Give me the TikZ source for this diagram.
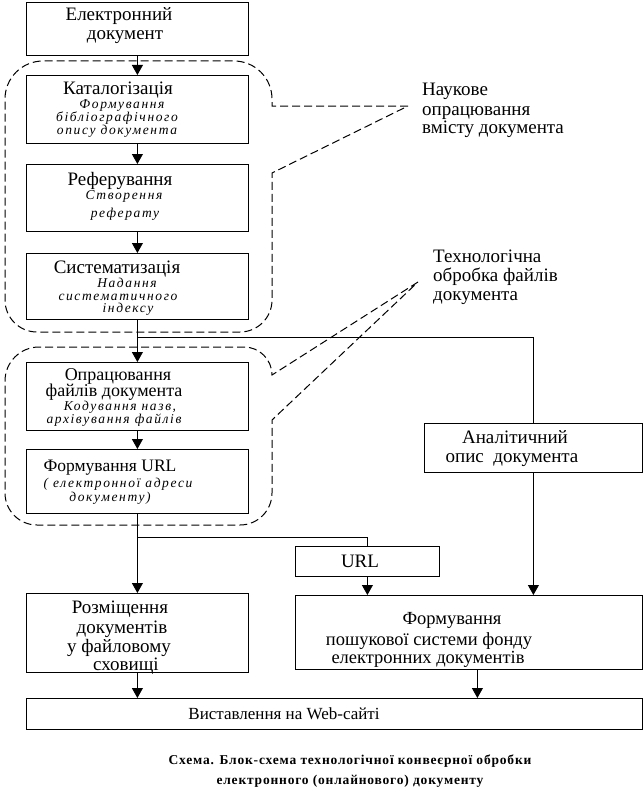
\documentclass[tikz,border=0pt]{standalone}
\usepackage{fontspec}
\setmainfont{Liberation Serif}
\newfontfamily\subfam{Liberation Serif}[LetterSpace=12]
\newfontfamily\capfam{Liberation Serif}[LetterSpace=6]
\usetikzlibrary{arrows.meta}
\newcommand\szA{\fontsize{19}{21}\selectfont}
\newcommand\szB{\fontsize{18}{20}\selectfont}
\newcommand\szC{\fontsize{17.5}{19}\selectfont}
\newcommand\szD{\fontsize{18.5}{20}\selectfont}
\newcommand\szE{\fontsize{17}{19}\selectfont}
\newcommand\subsz{\subfam\itshape\fontsize{13.5}{14}\selectfont}
\newcommand\capsz{\capfam\bfseries\fontsize{13.5}{15}\selectfont}
\newcommand\tline[5]{\node[#1] (#2) at (#3) {#5};}
\begin{document}
\begin{tikzpicture}[x=1pt,y=-1pt,
  box/.style={draw, line width=0.8pt, inner sep=0pt, anchor=north west},
  mt/.style={font=\szA, inner sep=0pt, anchor=base},
  mtb/.style={font=\szB, inner sep=0pt, anchor=base},
  mtc/.style={font=\szC, inner sep=0pt, anchor=base},
  mtd/.style={font=\szD, inner sep=0pt, anchor=base},
  mte/.style={font=\szE, inner sep=0pt, anchor=base},
  st/.style={font=\subsz, inner sep=0pt, anchor=base},
  lt/.style={font=\szA, inner sep=0pt, anchor=base west},
  ct/.style={font=\capsz, inner sep=0pt, anchor=base},
  conn/.style={line width=0.8pt},
  arr/.style={line width=0.8pt, -{Triangle[width=11pt,length=10pt]}},
  dsh/.style={line width=1pt, dash pattern=on 8pt off 4pt}]
\useasboundingbox (0,0) rectangle (643,800);
% boxes
\node[box, minimum width=222pt, minimum height=53pt] (e) at (26,2) {};
\node[box, minimum width=222pt, minimum height=68pt] (cat) at (26,75) {};
\node[box, minimum width=222pt, minimum height=67pt] (ref) at (26,164) {};
\node[box, minimum width=222pt, minimum height=66pt] (sys) at (26,253) {};
\node[box, minimum width=222pt, minimum height=68pt] (opr) at (26,362) {};
\node[box, minimum width=222pt, minimum height=64pt] (url1) at (26,449) {};
\node[box, minimum width=222pt, minimum height=79pt] (roz) at (26,593) {};
\node[box, minimum width=144pt, minimum height=30pt] (urlb) at (295,546) {};
\node[box, minimum width=218pt, minimum height=49pt] (anal) at (424,423) {};
\node[box, minimum width=347pt, minimum height=74pt] (posh) at (295,595) {};
\node[box, minimum width=616pt, minimum height=31pt] (vyst) at (26,698) {};
% texts
\tline{mt}{e1}{119,21}{}{Електронний}
\tline{mt}{e2}{125,40}{}{документ}
\tline{mt}{c1}{118,94}{}{Каталогізація}
\tline{st}{c2}{122,108}{}{Формування}
\tline{st}{c3}{117,121}{}{бібліографічного}
\tline{st}{c4}{117,134}{}{опису документа}
\tline{mt}{r1}{120,185}{}{Реферування}
\tline{st}{r2}{124,199}{}{Створення}
\tline{st}{r3}{125,217}{}{реферату}
\tline{mt}{s1}{117,273}{}{Систематизація}
\tline{st}{s2}{127,287}{}{Надання}
\tline{st}{s3}{118,300}{}{систематичного}
\tline{st}{s4}{128,312}{}{індексу}
\tline{mtb}{o1}{118,380}{}{Опрацювання}
\tline{mtb}{o2}{114,396.5}{}{файлів документа}
\tline{st}{o3}{120,410}{}{Кодування назв,}
\tline{st}{o4}{114,423.5}{}{архівування файлів}
\tline{mtc}{u1}{110,471}{}{Формування URL}
\tline{st}{u2}{118,487}{}{( електронної адреси}
\tline{st}{u3}{110,501}{}{документу)}
\tline{mt}{z1}{120,613}{}{Розміщення}
\tline{mt}{z2}{122,633}{}{документів}
\tline{mt}{z3}{119,652}{}{у файловому}
\tline{mt}{z4}{126,670}{}{сховищі}
\tline{mtd}{p1t}{452,624}{}{Формування}
\tline{mtd}{p2t}{429,645}{}{пошукової системи фонду}
\tline{mtd}{p3t}{428,663}{}{електронних документів}
\tline{mt}{a1}{515,443}{}{Аналітичний}
\tline{mt}{a2}{512,462}{}{опис\ \ документа}
\tline{mt}{ub}{360,567}{}{URL}
\tline{mte}{v1}{284,719}{}{Виставлення на Web-сайті}
\tline{lt}{n1}{422,95}{}{Наукове}
\tline{lt}{n2}{422,115}{}{опрацювання}
\tline{lt}{n3}{422,133}{}{вмісту документа}
\tline{lt}{k1}{433,262}{}{Технологічна}
\tline{lt}{k2}{433,281}{}{обробка файлів}
\tline{lt}{k3}{433,300}{}{документа}
\tline{ct}{cap1}{350,764}{}{Схема. Блок-схема технологічної конвеєрної обробки}
\tline{ct}{cap2}{350,784}{}{електронного (онлайнового) документу}
% dashed callout regions
\coordinate (q1) at (408,106);
\coordinate (q2) at (418,282);
\draw[dsh] (q1) -- (272,106) [rounded corners=38pt] -- (272,61) -- (5,61) [rounded corners=32pt] -- (5,332) -- (272,332) [sharp corners] -- (272,173) -- cycle;
\draw[dsh] (q2) -- (272,375) [rounded corners=28pt] -- (272,347) [rounded corners=34pt] -- (5,347) [rounded corners=32pt] -- (5,525) -- (272,525) [sharp corners] -- (272,420) -- cycle;
% connectors
\draw[arr] (e.south) -- (cat.north);
\draw[arr] (cat.south) -- (ref.north);
\draw[arr] (ref.south) -- (sys.north);
\draw[arr] (sys.south) -- (opr.north);
\coordinate (b1) at (137,337);
\draw[conn] (b1) -| (anal.north);
\draw[arr] (anal.south) -- (anal.south |- posh.north);
\draw[arr] (opr.south) -- (url1.north);
\draw[arr] (url1.south) -- (roz.north);
\coordinate (b2) at (137,537);
\draw[conn] (b2) -| (urlb.north);
\draw[arr] (urlb.south) -- (urlb.south |- posh.north);
\draw[arr] (roz.south) -- (roz.south |- vyst.north);
\draw[arr] ([xshift=8.5pt]posh.south) coordinate (pb) -- (pb |- vyst.north);
\end{tikzpicture}
\end{document}
